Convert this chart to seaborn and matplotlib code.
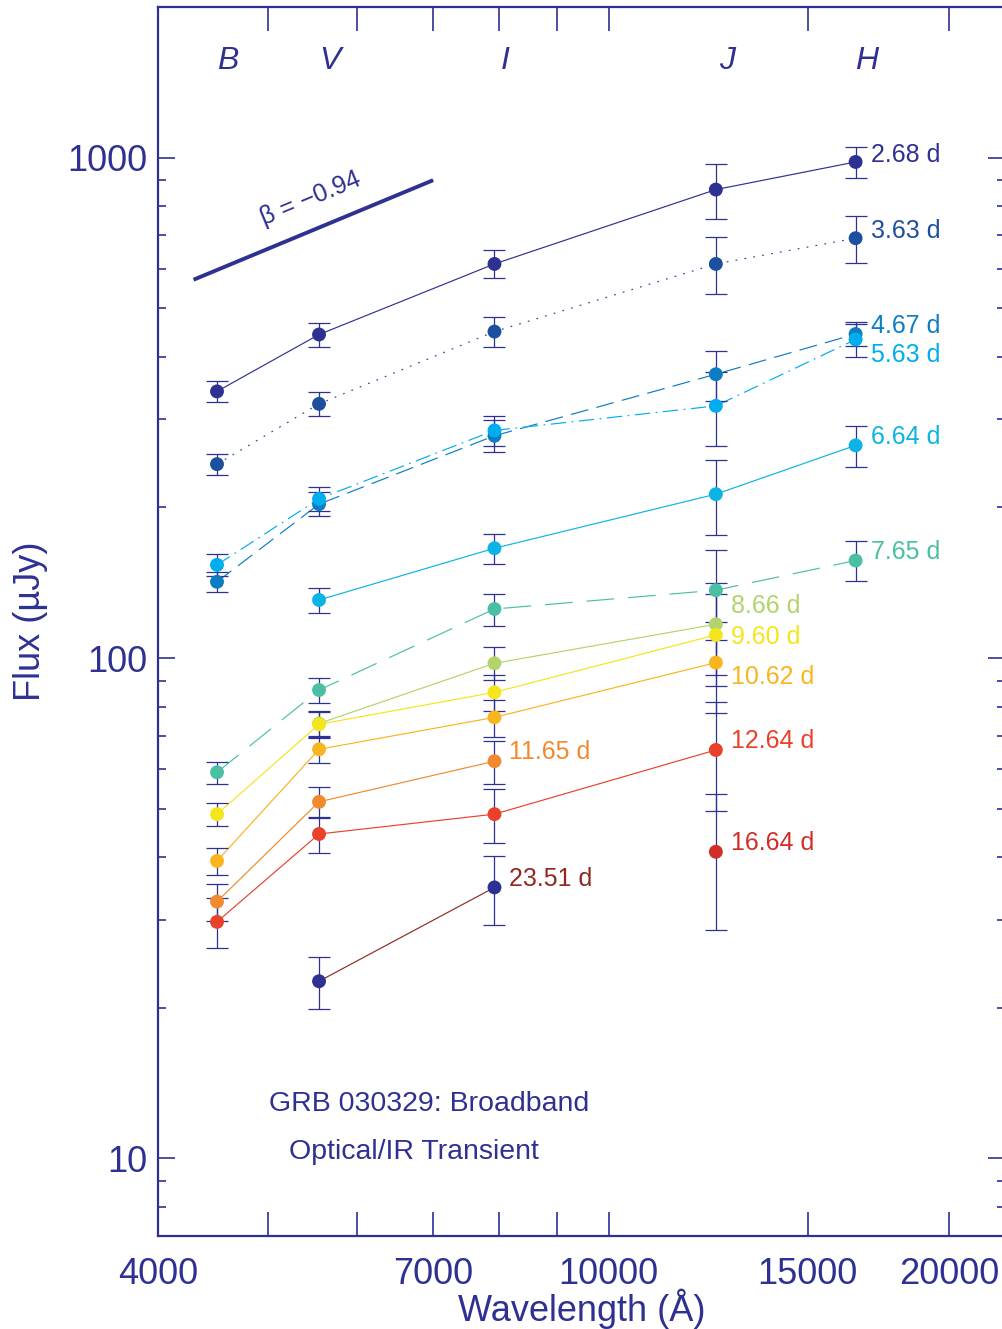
import numpy as np
import pandas as pd
import matplotlib
matplotlib.use("Agg")
import matplotlib.pyplot as plt
from matplotlib.ticker import FixedLocator, FixedFormatter, LogLocator, NullFormatter, NullLocator, FuncFormatter
import seaborn as sns

# ---- data -----------------------------------------------------------------
bands = ["B", "V", "I", "J", "H"]
band_wavelength = [4510, 5550, 7930, 12440, 16530]   # Angstrom

epochs = ["2.68 d", "3.63 d", "4.67 d", "5.63 d", "6.64 d", "7.65 d", "8.66 d",
          "9.60 d", "10.62 d", "11.65 d", "12.64 d", "16.64 d", "23.51 d"]

nan = np.nan
# flux density (microJy) per band  B, V, I, J, H
flux = {
    "2.68 d":  [341, 443, 613, 863, 980],
    "3.63 d":  [244, 322, 449, 613, 690],
    "4.67 d":  [142, 203, 278, 369, 444],
    "5.63 d":  [153.5, 208, 285, 319, 433],
    "6.64 d":  [nan, 130.6, 165.7, 212.5, 266],
    "7.65 d":  [59.1, 86.3, 125.3, 136.6, 156.6],
    "8.66 d":  [nan, 74.0, 97.6, 116.8, nan],
    "9.60 d":  [48.75, 73.7, 85.4, 111.2, nan],
    "10.62 d": [39.3, 65.7, 76.1, 97.9, nan],
    "11.65 d": [32.6, 51.6, 62.2, nan, nan],
    "12.64 d": [29.7, 44.5, 48.75, 65.5, nan],
    "16.64 d": [nan, nan, nan, 41.0, nan],
    "23.51 d": [nan, 22.6, 34.8, nan, nan],
}
# 1-sigma flux errors (microJy)
flux_err = {
    "2.68 d":  [16, 24.5, 39.5, 108, 71],
    "3.63 d":  [11.6, 17.5, 30.4, 80, 73],
    "4.67 d":  [6.5, 11.2, 20.5, 42, 24.5],
    "5.63 d":  [7.8, 11.5, 19.7, 54, 33],
    "6.64 d":  [nan, 7.6, 11.4, 36, 25],
    "7.65 d":  [3.0, 4.9, 9.2, 27.8, 14.4],
    "8.66 d":  [nan, 4.4, 7.4, 24.3, nan],
    "9.60 d":  [2.6, 4.4, 6.9, 23.2, nan],
    "10.62 d": [2.4, 4.1, 6.5, 20.2, nan],
    "11.65 d": [2.8, 3.6, 6.2, nan, nan],
    "12.64 d": [3.4, 3.7, 6.1, 16, nan],
    "16.64 d": [nan, nan, nan, 12.4, nan],
    "23.51 d": [nan, 2.7, 5.5, nan, nan],
}

# where each epoch label sits: band it follows and flux level of the text
label_band = ["H", "H", "H", "H", "H", "H", "J", "J", "J", "I", "J", "J", "I"]
label_flux = [1014, 714, 461, 404, 277, 163, 127, 110, 91.6, 64.9, 68.2, 42.7, 36.1]

# power-law reference slope
beta = -0.94
beta_wavelength = [4300, 7000]
beta_flux_start = 570

x_ticks = [4000, 5000, 6000, 7000, 8000, 9000, 10000, 15000, 20000]
x_tick_labels = ["4000", "", "", "7000", "", "", "10000", "15000", "20000"]

# ---- styles ---------------------------------------------------------------
navy = "#2e3192"
marker_colors = {
    "2.68 d": "#2e3192", "3.63 d": "#1d4f9f", "4.67 d": "#0c7dc2",
    "5.63 d": "#00aeef", "6.64 d": "#0bb4e4", "7.65 d": "#4bbfa3",
    "8.66 d": "#b3d36b", "9.60 d": "#f5e51c", "10.62 d": "#f8b51f",
    "11.65 d": "#f18a2f", "12.64 d": "#ea412a", "16.64 d": "#d12e28",
    "23.51 d": "#2e3192",
}
line_colors = dict(marker_colors)
line_colors["23.51 d"] = "#8f2a20"
text_colors = dict(line_colors)

dash_map = {e: "" for e in epochs}
dash_map["3.63 d"] = (1.3, 5.2)
dash_map["4.67 d"] = (13, 6)
dash_map["5.63 d"] = (11, 4, 1.3, 4)
dash_map["7.65 d"] = (20, 10)

# ---- figure ---------------------------------------------------------------
sns.set_theme(style="ticks")
plt.rcParams["font.family"] = ["Liberation Sans", "DejaVu Sans"]
plt.rcParams["lines.scale_dashes"] = False
plt.rcParams["mathtext.default"] = "regular"

fig = plt.figure(figsize=(10.02, 13.29), dpi=100)
ax = fig.add_axes([0.1577, 0.070, 0.8453, 0.9248])
ax.set_xscale("log")
ax.set_yscale("log")

rows = []
for ep in epochs:
    for b, wl, f, e in zip(bands, band_wavelength, flux[ep], flux_err[ep]):
        if np.isfinite(f):
            rows.append({"epoch": ep, "band": b, "wavelength": wl, "flux": f, "err": e})
df = pd.DataFrame(rows)

sns.lineplot(data=df, x="wavelength", y="flux", hue="epoch", style="epoch",
             hue_order=epochs, style_order=epochs, palette=line_colors,
             dashes=dash_map, linewidth=0.85, estimator=None, sort=True,
             legend=False, ax=ax, zorder=2)

ax.errorbar(df["wavelength"], df["flux"], yerr=df["err"], fmt="none",
            ecolor=navy, elinewidth=0.9, capsize=7.7, capthick=0.9, zorder=3)

sns.scatterplot(data=df, x="wavelength", y="flux", hue="epoch", hue_order=epochs,
                palette=marker_colors, s=100, linewidth=0, legend=False, ax=ax,
                zorder=4)

# reference power-law segment
bw = np.array(beta_wavelength, dtype=float)
ax.plot(bw, beta_flux_start * (bw / bw[0]) ** (-beta), color=navy, lw=2.8,
        solid_capstyle="butt", zorder=2)
ax.text(5460, 828, "\u03b2 = \u22120.94", color=navy, fontsize=18, rotation=22.5,
        ha="center", va="center", rotation_mode="anchor")

# epoch labels
band_pos = dict(zip(bands, band_wavelength))
for ep, b, fy in zip(epochs, label_band, label_flux):
    ax.annotate(ep, xy=(band_pos[b], fy), xytext=(10.8, 0),
                textcoords="offset points", ha="left", va="center",
                color=text_colors[ep], fontsize=18)

# band names along the top
for b, wl in zip(bands, band_wavelength):
    ax.annotate(b, xy=(wl, 1556), xytext=(8, 0), textcoords="offset points",
                ha="center", va="center", color=navy, fontsize=23,
                style="italic")

ax.text(0.32, 0.1075, "GRB 030329: Broadband", transform=ax.transAxes,
        ha="center", va="center", color=navy, fontsize=20.5)
ax.text(0.302, 0.0685, "Optical/IR Transient", transform=ax.transAxes,
        ha="center", va="center", color=navy, fontsize=20.5)

# ---- axes -----------------------------------------------------------------
ax.set_xlim(4000, 22400)
ax.set_ylim(7, 2000)

ax.xaxis.set_major_locator(FixedLocator(x_ticks))
ax.xaxis.set_major_formatter(FixedFormatter(x_tick_labels))
ax.xaxis.set_minor_locator(NullLocator())
ax.yaxis.set_major_locator(LogLocator(base=10))
ax.yaxis.set_major_formatter(FuncFormatter(lambda v, p: f"{v:g}"))
ax.yaxis.set_minor_locator(LogLocator(base=10, subs=np.arange(2, 10)))
ax.yaxis.set_minor_formatter(NullFormatter())

ax.tick_params(axis="both", which="both", direction="in", top=True, right=True,
               color=navy, labelcolor=navy, labelsize=26, width=1.2)
ax.tick_params(axis="x", which="major", length=17, pad=15)
ax.tick_params(axis="y", which="major", length=12, pad=8)
ax.tick_params(axis="y", which="minor", length=6)

for sp in ax.spines.values():
    sp.set_color(navy)
    sp.set_linewidth(1.6)

ax.set_xlabel("Wavelength (\u00c5)", color=navy, fontsize=26)
ax.set_ylabel("Flux (\u00b5Jy)", color=navy, fontsize=26)
ax.xaxis.set_label_coords(0.5, -0.043)
ax.yaxis.set_label_coords(-0.130, 0.5)

fig.savefig("out.png", dpi=100)
